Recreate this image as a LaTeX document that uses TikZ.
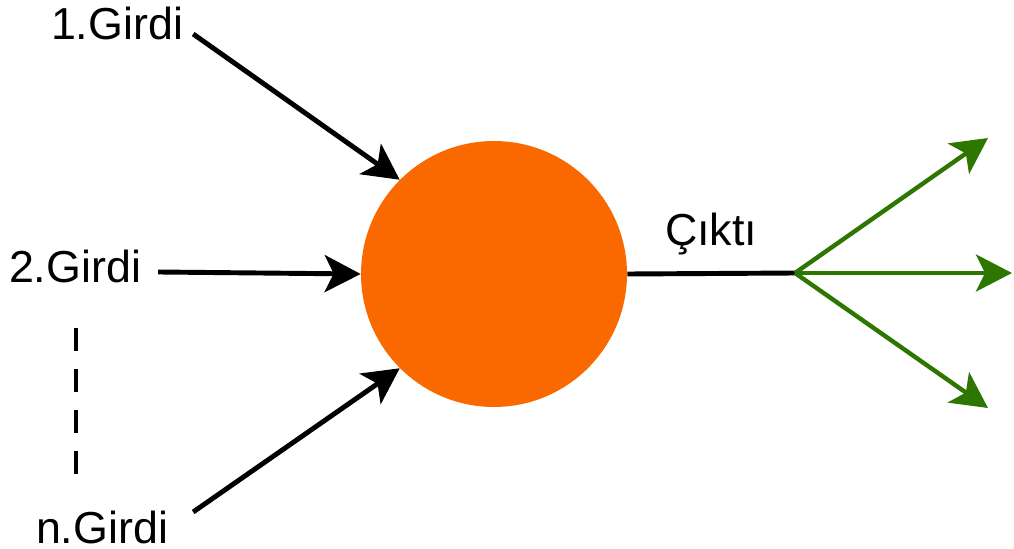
\documentclass[tikz,border=0pt]{standalone}
\usepackage{fontspec}
\setmainfont{Liberation Sans}
\usetikzlibrary{arrows.meta}

\definecolor{noron}{HTML}{FA6800}
\definecolor{yesil}{HTML}{2D7600}

\begin{document}
\begin{tikzpicture}[x=0.02cm, y=-0.02cm,
    etiket/.style={font=\fontsize{25.5}{28}\selectfont, anchor=base},
    ok/.style={line width=2.8pt, -{Stealth[length=0.72cm, width=0.74cm, inset=0.18cm]}},
    >=Stealth]

  \useasboundingbox (0,0) rectangle (1014,548);

  \node[circle, fill=noron, inner sep=0pt, minimum size=5.32cm] (N) at (494,274) {};

  \node[etiket] (G1) at (117,39) {1.Girdi};
  \node[etiket] (G2) at (75,282) {2.Girdi};
  \node[etiket] (Gn) at (102,543) {n.Girdi};

  \draw[ok] ([shift={(4,11)}]G1.east) -- (N.135);
  \draw[ok] ([shift={(11,6)}]G2.east) -- (N.west);
  \draw[ok] ([shift={(19,-15)}]Gn.east) -- (N.225);
  \draw[line width=2.8pt, dash pattern=on 0.46cm off 0.36cm]
    ([shift={(1,39)}]G2.south) -- ([shift={(1,-17)}]G2.south |- Gn.north);

  % cikti ve dallar
  \coordinate (S) at (795,273);
  \coordinate (Y1) at (988,138);
  \coordinate (Y2) at (1012,273);
  \coordinate (Y3) at (988,408);
  \draw[line width=2.8pt] (N.east) -- node[etiket, anchor=south, above=0.2cm] (C) {Çıktı} (S);
  \draw[ok, yesil, line width=2.5pt] (S) -- (Y1);
  \draw[ok, yesil, line width=2.5pt] (S) -- (Y2);
  \draw[ok, yesil, line width=2.5pt] (S) -- (Y3);
\end{tikzpicture}
\end{document}
